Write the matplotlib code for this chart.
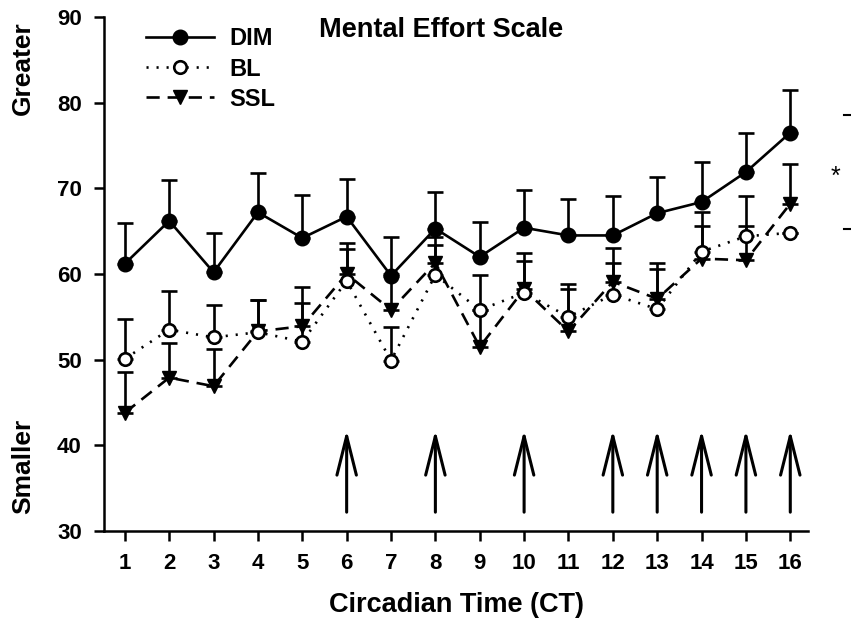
import matplotlib.pyplot as plt
import numpy as np

plt.rcParams['font.family'] = ['Liberation Sans', 'DejaVu Sans']
plt.rcParams['font.weight'] = 'bold'

# data
ct_labels = ['1', '2', '3', '4', '5', '6', '7', '8', '9', '10', '11', '12', '13', '14', '15', '16']
dim = [61.2, 66.2, 60.2, 67.2, 64.2, 66.7, 59.8, 65.3, 62.0, 65.4, 64.5, 64.5, 67.1, 68.4, 71.9, 76.5]
dim_err = [4.8, 4.8, 4.6, 4.6, 5.0, 4.4, 4.5, 4.3, 4.1, 4.4, 4.2, 4.6, 4.2, 4.7, 4.5, 5.0]
bl = [50.1, 53.5, 52.6, 53.2, 52.1, 59.2, 49.9, 59.9, 55.8, 57.8, 55.0, 57.6, 55.9, 62.6, 64.4, 64.8]
bl_err = [4.7, 4.5, 3.8, 3.8, 4.5, 3.7, 3.9, 3.5, 4.1, 3.7, 3.3, 3.7, 4.7, 4.6, 4.7, 0.0]
ssl = [43.8, 47.9, 46.9, 53.3, 53.9, 60.0, 55.8, 61.3, 51.5, 58.2, 53.3, 59.1, 57.1, 61.8, 61.6, 68.2]
ssl_err = [4.8, 4.1, 4.3, 3.7, 4.6, 3.6, 4.2, 3.0, 4.3, 4.2, 5.5, 3.9, 4.2, 3.8, 4.0, 4.6]
arrow_cts = ['6', '8', '10', '12', '13', '14', '15', '16']

x = np.arange(len(ct_labels))
lw = 1.9

fig = plt.figure(figsize=(8.51, 6.29), dpi=100)
ax = fig.add_axes([0.1222, 0.1558, 0.8273, 0.8172])

zero = np.zeros(len(x))
ax.errorbar(x, ssl, yerr=[zero, ssl_err], fmt='none', ecolor='black', elinewidth=lw,
            capsize=6, capthick=lw, zorder=2)
ax.errorbar(x, bl, yerr=[zero, bl_err], fmt='none', ecolor='black', elinewidth=lw,
            capsize=6, capthick=lw, zorder=2)
ax.errorbar(x, dim, yerr=[zero, dim_err], fmt='none', ecolor='black', elinewidth=lw,
            capsize=6, capthick=lw, zorder=2)

ax.plot(x, ssl, color='black', lw=lw, dashes=(5, 3), marker='v', markersize=10.5,
        markerfacecolor='black', label='SSL', zorder=3)
ax.plot(x, bl, color='black', lw=lw, dashes=(0.8, 3), marker='o', markersize=9,
        markerfacecolor='white', markeredgewidth=lw, label='BL', zorder=4)
ax.plot(x, dim, color='black', lw=lw, marker='o', markersize=10.5,
        markerfacecolor='black', label='DIM', zorder=5)

# arrows
for c in arrow_cts:
    xi = ct_labels.index(c)
    ax.annotate('', xy=(xi, 41.8), xytext=(xi, 32.2),
                arrowprops=dict(arrowstyle='->,head_length=2.8,head_width=0.7',
                                mutation_scale=10, shrinkA=0, shrinkB=0,
                                color='black', lw=2.2))

ax.set_xlim(-0.47, 15.4)
ax.set_ylim(30, 90)
ax.set_xticks(x)
ax.set_xticklabels(ct_labels)
ax.set_yticks(np.arange(30, 91, 10))
ax.tick_params(direction='out', length=7, width=1.8, labelsize=16, pad=9)
for s in ['top', 'right']:
    ax.spines[s].set_visible(False)
for s in ['left', 'bottom']:
    ax.spines[s].set_linewidth(1.8)

ax.set_xlabel('Circadian Time (CT)', fontsize=19.5, fontweight='bold', labelpad=13)
fig.text(0.027, 0.892, 'Greater', rotation=90, ha='center', va='center',
         fontsize=19, fontweight='bold')
fig.text(0.027, 0.259, 'Smaller', rotation=90, ha='center', va='center',
         fontsize=19, fontweight='bold')

ax.text(0.479, 0.974, 'Mental Effort Scale', transform=ax.transAxes, ha='center',
        va='center', fontsize=19.5, fontweight='bold')

# significance marks on the right
ax.plot([16.2, 16.6], [78.6, 78.6], color='black', lw=1.5, clip_on=False)
ax.plot([16.2, 16.6], [65.3, 65.3], color='black', lw=1.5, clip_on=False)
ax.text(16.03, 71.3, '*', fontsize=18, fontweight='normal', ha='center', va='center',
        clip_on=False)

h, l = ax.get_legend_handles_labels()
order = [2, 1, 0]
ax.legend([h[i] for i in order], [l[i] for i in order], loc='upper left',
          bbox_to_anchor=(0.03, 1.021), frameon=False, fontsize=17, handlelength=2.85,
          labelspacing=0.3, handletextpad=0.65)

fig.savefig('out.png', dpi=100)
